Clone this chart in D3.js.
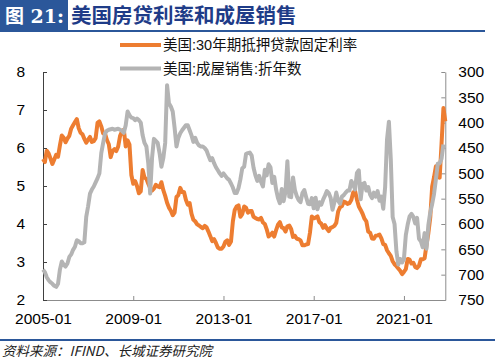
<!DOCTYPE html>
<html>
<head>
<meta charset="utf-8">
<script src="https://cdn.jsdelivr.net/npm/d3@7"></script>
<style>
  body { margin: 0; background: #fff; }
  svg { display: block; font-family: "Liberation Sans", Arial, "Noto Sans CJK SC", sans-serif; }
</style>
</head>
<body>
<svg id="chart" width="500" height="359"></svg>
<script>
// months from 2005-01, one value per month
const xTickLabels = ["2005-01", "2009-01", "2013-01", "2017-01", "2021-01"];
const xTickIndex = [0, 48, 96, 144, 192];
const leftTicks = [2, 3, 4, 5, 6, 7, 8];
const rightTicks = [300, 350, 400, 450, 500, 550, 600, 650, 700, 750];
const seriesNames = ["美国:30年期抵押贷款固定利率", "美国:成屋销售:折年数"];

// 美国:30年期抵押贷款固定利率 (%), 2005-01 .. 2022-11
const mortgageRate = [
  5.71,5.63,5.93,5.86,5.72,5.58,5.70,5.82,5.77,6.07,6.33,6.27,
  6.15,6.25,6.32,6.51,6.60,6.68,6.76,6.52,6.40,6.36,6.24,6.14,
  6.22,6.29,6.16,6.18,6.26,6.66,6.70,6.57,6.38,6.38,6.21,6.10,
  5.76,5.92,5.97,5.92,6.04,6.32,6.43,6.48,6.04,6.20,6.09,5.29,
  5.06,5.13,5.00,4.81,4.86,5.42,5.22,5.19,5.06,4.95,4.88,4.93,
  5.03,4.99,4.97,5.10,4.89,4.74,4.56,4.43,4.35,4.23,4.30,4.71,
  4.76,4.95,4.84,4.84,4.64,4.51,4.55,4.27,4.11,4.07,3.99,3.96,
  3.92,3.89,3.95,3.91,3.80,3.68,3.55,3.60,3.50,3.38,3.35,3.35,
  3.41,3.53,3.57,3.45,3.54,4.07,4.37,4.46,4.49,4.19,4.26,4.46,
  4.43,4.30,4.34,4.34,4.19,4.16,4.13,4.12,4.16,4.04,4.00,3.86,
  3.67,3.71,3.77,3.67,3.84,3.98,4.05,3.91,3.89,3.80,3.94,3.96,
  3.87,3.66,3.69,3.61,3.60,3.57,3.44,3.44,3.46,3.47,3.77,4.20,
  4.15,4.17,4.20,4.05,4.01,3.90,3.97,3.88,3.81,3.90,3.92,3.95,
  4.03,4.33,4.44,4.47,4.59,4.57,4.53,4.55,4.63,4.83,4.87,4.64,
  4.46,4.37,4.27,4.14,4.07,3.80,3.77,3.62,3.61,3.69,3.70,3.72,
  3.62,3.47,3.45,3.31,3.23,3.16,3.02,2.94,2.89,2.83,2.77,2.68,
  2.74,2.81,3.08,3.06,2.96,2.98,2.87,2.84,2.90,3.07,3.07,3.10,
  3.45,3.76,4.17,4.98,5.23,5.52,5.41,5.22,6.11,7.05,6.70
];

// 美国:成屋销售:折年数 (万套), 2005-01 .. 2022-10
const homeSales = [
  690,695,705,711,715,718,722,724,718,690,674,680,
  684,678,665,660,651,645,632,634,638,638,636,586,
  565,540,532,526,518,510,500,460,440,421,416,414,
  413,412,414,413,412,414,416,420,405,378,385,390,
  391,395,392,395,400,425,440,447,480,540,470,432,
  436,440,460,487,470,440,326,362,368,378,410,447,
  430,421,415,410,405,405,415,425,438,430,440,445,
  447,447,450,455,465,474,470,480,488,494,500,505,
  500,505,510,513,520,528,539,539,529,512,490,487,
  462,460,459,465,489,504,515,505,517,526,493,504,
  482,488,519,507,532,549,559,531,555,536,476,546,
  547,508,533,545,553,557,539,533,547,560,561,549,
  569,548,571,557,562,552,544,535,539,548,572,557,
  538,554,560,546,543,538,534,534,515,522,532,499,
  494,551,521,519,534,527,542,549,538,546,535,554,
  546,570,527,433,398,472,586,600,654,680,669,676,
  669,622,601,585,580,586,599,588,629,634,646,618,
  649,602,577,561,541,512,481,480,471,443
];

const svg = d3.select("#chart");
const plotLeft = 43, plotRight = 445.3, plotTop = 72, plotBottom = 300;

// header
svg.append("rect").attr("x", 0).attr("y", 0).attr("width", 68).attr("height", 30).attr("fill", "#2b579a");
svg.append("text").attr("x", 5).attr("y", 23)
  .attr("fill", "#fff").attr("font-size", 19).attr("font-weight", "bold")
  .style("font-family", '"DejaVu Serif", "Noto Sans CJK SC", serif')
  .text("图 21:");
svg.append("text").attr("x", 71).attr("y", 23)
  .attr("fill", "#1f3c88").attr("font-size", 20.5).attr("font-weight", "bold")
  .style("font-family", '"Noto Sans CJK SC", sans-serif')
  .text("美国房贷利率和成屋销售");
svg.append("line").attr("x1", 0).attr("x2", 485).attr("y1", 31).attr("y2", 31)
  .attr("stroke", "#2b579a").attr("stroke-width", 2);

// scales
const x = d3.scaleLinear().domain([0, 214]).range([plotLeft, plotRight]);
const yL = d3.scaleLinear().domain([2, 8]).range([plotBottom, plotTop]);
const yR = d3.scaleLinear().domain([300, 750]).range([plotTop, plotBottom]);

// axes
const xAxis = svg.append("g").attr("transform", `translate(0,${plotBottom})`)
  .call(d3.axisBottom(x).tickValues(xTickIndex)
    .tickFormat((d, i) => xTickLabels[i]).tickSizeInner(-4).tickSizeOuter(0).tickPadding(13));
xAxis.select(".domain").attr("stroke", "#8c8c8c");
xAxis.selectAll(".tick line").attr("stroke", "#8c8c8c");

const leftAxis = svg.append("g").attr("transform", `translate(${plotLeft},0)`)
  .call(d3.axisLeft(yL).tickValues(leftTicks).tickFormat(d3.format("d"))
    .tickSizeInner(-4).tickSizeOuter(0).tickPadding(18));
leftAxis.select(".domain").attr("stroke", "#404040");
leftAxis.selectAll(".tick line").attr("stroke", "#404040");

const rightAxis = svg.append("g").attr("transform", `translate(${plotRight},0)`)
  .call(d3.axisRight(yR).tickValues(rightTicks).tickFormat(d3.format("d"))
    .tickSizeInner(-4).tickSizeOuter(0).tickPadding(13));
rightAxis.select(".domain").attr("stroke", "#8c8c8c");
rightAxis.selectAll(".tick line").attr("stroke", "#8c8c8c");

svg.selectAll(".tick text").attr("font-size", 15.5).attr("fill", "#000")
  .style("font-family", '"Liberation Sans", Arial, sans-serif');

// lines
const rateLine = d3.line().x((d, i) => x(i)).y(d => yL(d));
const salesLine = d3.line().x((d, i) => x(i)).y(d => yR(d));

svg.append("path").datum(mortgageRate).attr("d", rateLine)
  .attr("fill", "none").attr("stroke", "#ed7d31").attr("stroke-width", 4)
  .attr("stroke-linejoin", "round");
svg.append("path").datum(homeSales).attr("d", salesLine)
  .attr("fill", "none").attr("stroke", "#b4b4b4").attr("stroke-width", 4)
  .attr("stroke-linejoin", "round");

// legend
const legendColors = ["#ed7d31", "#b4b4b4"];
const legend = svg.append("g");
seriesNames.forEach((name, i) => {
  const ly = 45 + i * 23.5;
  legend.append("line").attr("x1", 120).attr("x2", 161).attr("y1", ly).attr("y2", ly)
    .attr("stroke", legendColors[i]).attr("stroke-width", 4);
  legend.append("text").attr("x", 163).attr("y", ly + 5)
    .attr("font-size", 14.5).attr("fill", "#111")
    .style("font-family", '"Liberation Sans", "Noto Sans CJK SC", sans-serif')
    .text(name);
});

// footer
svg.append("line").attr("x1", 0).attr("x2", 495).attr("y1", 340).attr("y2", 340)
  .attr("stroke", "#2b579a").attr("stroke-width", 2);
svg.append("text").attr("x", 2).attr("y", 356)
  .attr("font-size", 13.5).attr("font-style", "italic").attr("fill", "#222")
  .style("font-family", '"Noto Sans CJK SC", sans-serif')
  .text("资料来源：IFIND、长城证券研究院");
</script>
</body>
</html>
